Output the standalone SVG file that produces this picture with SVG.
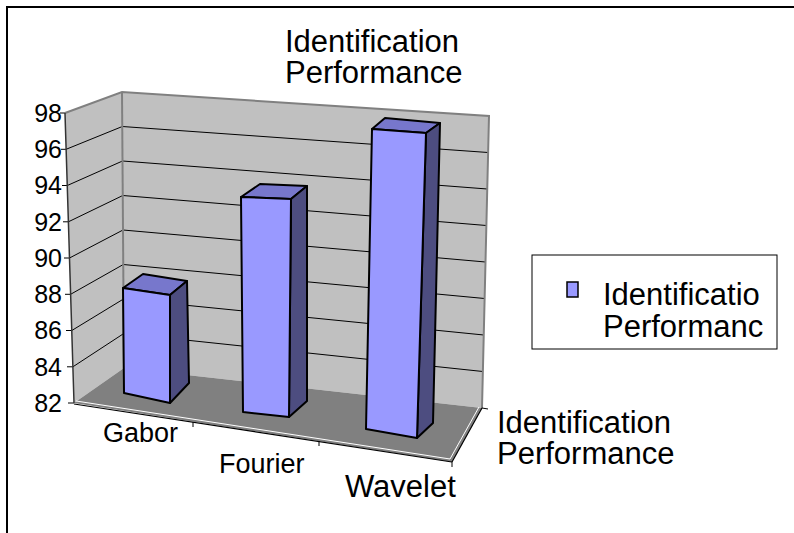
<svg xmlns="http://www.w3.org/2000/svg" width="794" height="533" viewBox="0 0 794 533">
<style>
text{font-family:"Liberation Sans",Arial,sans-serif;fill:#000}
.big{font-size:31px}
.cat{font-size:27px}
.ax{font-size:25px;text-anchor:end}
.grid{stroke:#000;stroke-width:1;fill:none}
.edge{stroke:#808080;stroke-width:2;fill:none}
.front{fill:#9999FF;stroke:#000;stroke-width:2;stroke-linejoin:round}
.top{fill:#7777CC;stroke:#000;stroke-width:2;stroke-linejoin:round}
.side{fill:#4D4D80;stroke:#000;stroke-width:2;stroke-linejoin:round}
</style>
<rect x="0" y="0" width="794" height="533" fill="#fff"/>
<path d="M7,533 V7 H794" fill="none" stroke="#000" stroke-width="2"/>
<g id="title">
<text class="big" x="285" y="52">Identification</text>
<text class="big" x="285" y="83">Performance</text>
</g>
<g id="walls">
<polygon points="65,113 122,92 124,368 74,403" fill="#C0C0C0"/>
<polygon points="122,92 489,116 482,408 124,368" fill="#C0C0C0"/>
<polygon points="74,403 124,368 482,408 452,462" fill="#808080"/>
</g>
<g id="gridlines" class="grid">
<line x1="66.1" y1="149.3" x2="122.3" y2="126.5"/>
<line x1="67.3" y1="185.5" x2="122.5" y2="161"/>
<line x1="68.4" y1="221.8" x2="122.8" y2="195.5"/>
<line x1="69.5" y1="258" x2="123" y2="230"/>
<line x1="70.6" y1="294.3" x2="123.3" y2="264.5"/>
<line x1="71.8" y1="330.5" x2="123.5" y2="299"/>
<line x1="72.9" y1="366.8" x2="123.8" y2="333.5"/>
<line x1="122.3" y1="126.5" x2="488.1" y2="152.5"/>
<line x1="122.5" y1="161" x2="487.3" y2="189"/>
<line x1="122.8" y1="195.5" x2="486.4" y2="225.5"/>
<line x1="123" y1="230" x2="485.5" y2="262"/>
<line x1="123.3" y1="264.5" x2="484.6" y2="298.5"/>
<line x1="123.5" y1="299" x2="483.8" y2="335"/>
<line x1="123.8" y1="333.5" x2="482.9" y2="371.5"/>
<line x1="60" y1="113" x2="65" y2="113"/>
<line x1="61" y1="149.3" x2="66.1" y2="149.3"/>
<line x1="62" y1="185.5" x2="67.3" y2="185.5"/>
<line x1="63" y1="221.8" x2="68.4" y2="221.8"/>
<line x1="64" y1="258" x2="69.5" y2="258"/>
<line x1="65" y1="294.3" x2="70.6" y2="294.3"/>
<line x1="66" y1="330.5" x2="71.8" y2="330.5"/>
<line x1="67" y1="366.8" x2="72.9" y2="366.8"/>
<line x1="68" y1="403" x2="74" y2="403"/>
</g>
<g id="wall-edges" class="edge">
<polyline points="65,113 122,92 489,116 482,408"/>
<line x1="122" y1="92" x2="124" y2="368"/>
</g>
<g id="axes">
<line x1="65" y1="113" x2="74" y2="403" stroke="#333" stroke-width="1.5"/>
<line x1="76" y1="401" x2="450" y2="459" stroke="#fff" stroke-width="1"/>
<line x1="74" y1="404" x2="452" y2="462" stroke="#000" stroke-width="1.2"/>
<line x1="450" y1="459" x2="479" y2="407" stroke="#fff" stroke-width="1"/>
<line x1="452" y1="462" x2="482" y2="408" stroke="#000" stroke-width="1.2"/>
<line x1="193" y1="422" x2="193" y2="427" stroke="#000"/>
<line x1="319" y1="441" x2="319" y2="446" stroke="#000"/>
<line x1="452" y1="462" x2="452" y2="467" stroke="#000"/>
<line x1="482" y1="408" x2="488" y2="409" stroke="#000"/>
</g>
<g id="bar-gabor">
<polygon class="top" points="123,288 143,274 187,281 170,295"/>
<polygon class="side" points="170,295 187,281 189,383 170,403"/>
<polygon class="front" points="123,288 170,295 170,403 124,393"/>
</g>
<g id="bar-fourier">
<polygon class="top" points="241,197 260,184 307,186 291,199"/>
<polygon class="side" points="291,199 307,186 307,401 289,417"/>
<polygon class="front" points="241,197 291,199 289,417 243,412"/>
</g>
<g id="bar-wavelet">
<polygon class="top" points="372,129 385,118 440,123 426,133"/>
<polygon class="side" points="426,133 440,123 433,423 417,438"/>
<polygon class="front" points="372,129 426,133 417,438 366,429"/>
</g>
<g id="y-labels">
<text class="ax" x="62" y="122">98</text>
<text class="ax" x="62" y="158">96</text>
<text class="ax" x="62" y="194">94</text>
<text class="ax" x="62" y="231">92</text>
<text class="ax" x="62" y="267">90</text>
<text class="ax" x="62" y="303">88</text>
<text class="ax" x="62" y="339">86</text>
<text class="ax" x="62" y="376">84</text>
<text class="ax" x="62" y="412">82</text>
</g>
<g id="x-labels">
<text class="cat" x="103" y="442">Gabor</text>
<text class="cat" x="219" y="473">Fourier</text>
<text class="big" x="345" y="497">Wavelet</text>
</g>
<g id="depth-label">
<text class="big" x="497" y="433">Identification</text>
<text class="big" x="497" y="464">Performance</text>
</g>
<g id="legend">
<rect x="532" y="255" width="245" height="94" fill="#fff" stroke="#000" stroke-width="1"/>
<rect x="567" y="282" width="11" height="15" fill="#9999FF" stroke="#000" stroke-width="1.5"/>
<text class="big" x="603" y="305">Identificatio</text>
<text class="big" x="603" y="337">Performanc</text>
</g>
</svg>
